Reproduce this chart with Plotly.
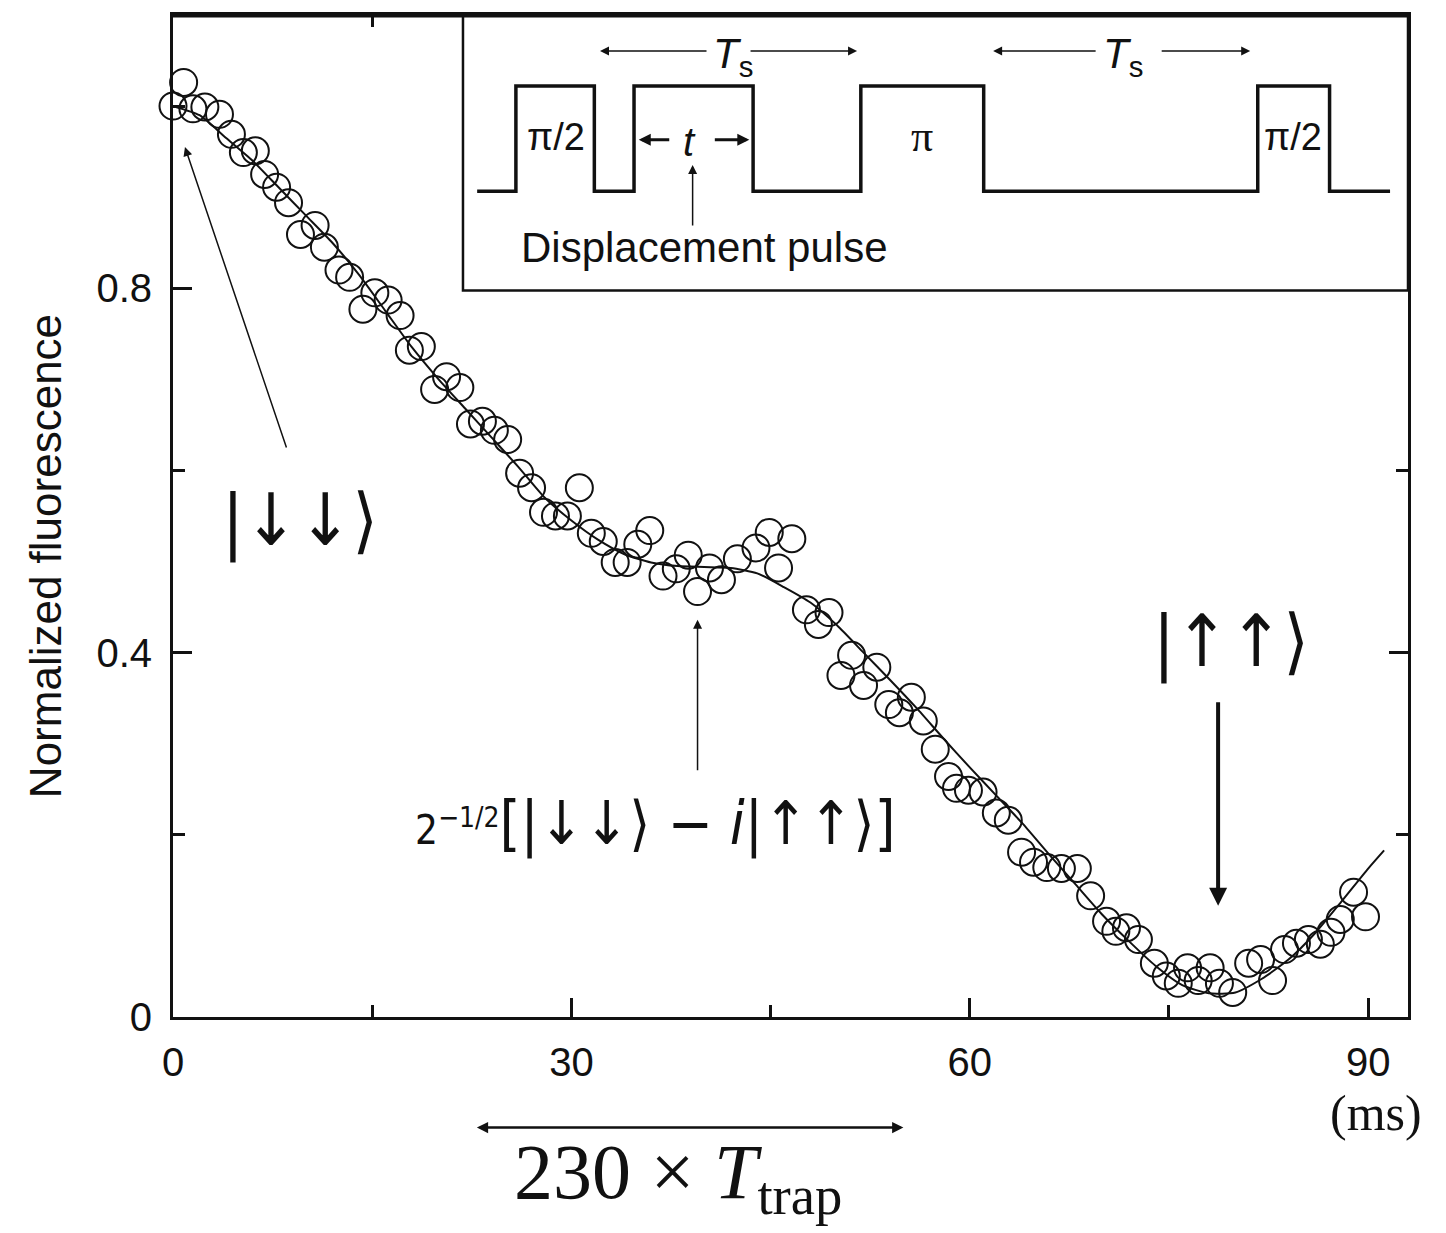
import plotly.graph_objects as go

# Measured fluorescence vs. time (ms)
time_ms = [0.0, 0.8, 1.5, 2.4, 3.5, 4.4, 5.3, 6.2, 6.9, 7.8, 8.7, 9.6, 10.7, 11.4, 12.5,
           13.3, 14.3, 15.2, 16.2, 17.1, 17.8, 18.7, 19.7, 20.6, 21.6, 22.4, 23.3, 24.2,
           25.2, 26.1, 27.0, 27.9, 28.8, 29.7, 30.6, 31.5, 32.4, 33.3, 34.2, 35.0, 35.9,
           36.9, 37.9, 38.8, 39.5, 40.4, 41.3, 42.5, 43.9, 44.9, 45.6, 46.6, 47.7, 48.6,
           49.4, 50.3, 51.1, 52.0, 53.0, 53.9, 54.7, 55.6, 56.5, 57.4, 58.4, 59.0, 59.9,
           61.0, 62.0, 62.9, 63.9, 64.8, 65.8, 66.9, 68.1, 69.1, 70.3, 71.0, 71.8, 72.7,
           73.9, 74.8, 75.7, 76.4, 77.2, 78.1, 78.8, 79.8, 81.0, 81.9, 82.8, 83.7, 84.6,
           85.5, 86.4, 87.2, 87.9, 88.9, 89.8]
fluorescence = [1.000, 1.026, 0.997, 0.999, 0.991, 0.969, 0.949, 0.951, 0.925, 0.911,
                0.894, 0.859, 0.869, 0.845, 0.820, 0.812, 0.777, 0.795, 0.787, 0.770,
                0.732, 0.736, 0.689, 0.703, 0.691, 0.651, 0.654, 0.644, 0.634, 0.597,
                0.581, 0.554, 0.550, 0.550, 0.581, 0.531, 0.522, 0.499, 0.499, 0.519,
                0.534, 0.484, 0.492, 0.507, 0.467, 0.493, 0.480, 0.503, 0.515, 0.532,
                0.493, 0.525, 0.447, 0.431, 0.444, 0.375, 0.397, 0.364, 0.384, 0.343,
                0.334, 0.351, 0.325, 0.294, 0.264, 0.251, 0.249, 0.247, 0.224, 0.216,
                0.181, 0.170, 0.164, 0.163, 0.163, 0.133, 0.105, 0.094, 0.098, 0.085,
                0.059, 0.045, 0.037, 0.054, 0.040, 0.054, 0.037, 0.027, 0.059, 0.063,
                0.040, 0.074, 0.081, 0.085, 0.080, 0.093, 0.107, 0.137, 0.110]

# Theoretical curve
fit_t = [0, 2, 4, 6, 8, 10, 12, 14, 16, 18, 20, 22, 24, 26, 28, 30, 32, 34, 36, 38, 40,
         42, 44, 46, 48, 50, 52, 54, 56, 58, 60, 62, 64, 66, 68, 70, 72, 74, 76, 78, 80,
         82, 84, 86, 88, 90, 91.2]
fit_y = [1.000, 0.990, 0.965, 0.940, 0.910, 0.880, 0.850, 0.815, 0.775, 0.735, 0.700,
         0.668, 0.636, 0.604, 0.570, 0.545, 0.524, 0.508, 0.499, 0.495, 0.494, 0.493,
         0.487, 0.472, 0.455, 0.430, 0.400, 0.370, 0.339, 0.306, 0.274, 0.243, 0.212,
         0.178, 0.145, 0.112, 0.083, 0.056, 0.035, 0.026, 0.027, 0.042, 0.063, 0.092,
         0.127, 0.163, 0.183]

x_ticks = [0, 30, 60, 90]
x_minor = [15, 45, 75]
y_ticks = [0, 0.4, 0.8]
y_tick_text = ["0", "0.4", "0.8"]
y_minor = [0.2, 0.6, 1.0]

# Pulse sequence (inset): edge times and on/off levels, arbitrary units
pulse_t = [1.5, 5.6, 13.9, 18.1, 30.7, 42.1, 55.1, 84.1, 91.7, 98.1]
pulse_level = [0, 1, 0, 1, 0, 1, 0, 1, 0, 0]

SANS = "Liberation Sans, Arial, sans-serif"
SERIF = "Liberation Serif, DejaVu Serif, serif"
SYM = "DejaVu Sans Condensed, DejaVu Sans, sans-serif"
INK = "#111111"

fig = go.Figure()

fig.add_trace(go.Scatter(
    x=fit_t, y=fit_y, mode="lines", line=dict(color=INK, width=2, shape="spline",
                                              smoothing=0.6),
    showlegend=False, hoverinfo="skip"))
fig.add_trace(go.Scatter(
    x=time_ms, y=fluorescence, mode="markers", cliponaxis=False,
    marker=dict(symbol="circle-open", size=27, color=INK, line=dict(width=2, color=INK)),
    showlegend=False))

# inset pulse waveform
fig.add_trace(go.Scatter(
    x=pulse_t, y=pulse_level, mode="lines", xaxis="x2", yaxis="y2",
    line=dict(color=INK, width=3.5, shape="hv"), showlegend=False, hoverinfo="skip"))

axis_common = dict(showgrid=False, zeroline=False, showline=True, linecolor=INK,
                   linewidth=3, mirror="allticks", ticks="inside", tickcolor=INK,
                   tickwidth=2.5, ticklen=19,
                   tickfont=dict(family=SANS, size=40, color=INK))

fig.update_layout(
    width=1446, height=1233,
    margin=dict(l=173, r=38, t=12, b=216),
    paper_bgcolor="white", plot_bgcolor="white",
    xaxis=dict(range=[0, 93], tickvals=x_ticks,
               minor=dict(tickvals=x_minor, ticks="inside", ticklen=12,
                          tickwidth=2.5, tickcolor=INK),
               ticklabelstandoff=8, **axis_common),
    yaxis=dict(range=[0, 1.1], tickvals=y_ticks, ticktext=y_tick_text,
               minor=dict(tickvals=y_minor, ticks="inside", ticklen=12,
                          tickwidth=2.5, tickcolor=INK),
               ticklabelstandoff=10, **axis_common),
    xaxis2=dict(domain=[0.2348, 1.0], range=[0, 100], visible=False, anchor="y2",
                fixedrange=True),
    yaxis2=dict(domain=[0.725, 1.0], range=[-0.943, 1.676], visible=False,
                anchor="x2", fixedrange=True),
)

# inset frame and heavy top border
fig.add_shape(type="rect", xref="paper", yref="paper", x0=0.2348, x1=1.0, y0=0.725,
              y1=1.0, line=dict(color=INK, width=2.5))
fig.add_shape(type="line", xref="paper", yref="paper", x0=0, x1=1, y0=1, y1=1,
              line=dict(color=INK, width=5))

ann = []


def arrow(x, y, ax, ay, width=1.5, head=2, size=1.2, xref="x", yref="y", side="end"):
    ann.append(dict(x=x, y=y, ax=ax, ay=ay, xref=xref, yref=yref, text="",
                    showarrow=True, arrowhead=head, startarrowhead=head,
                    arrowsize=size, startarrowsize=size, arrowwidth=width,
                    arrowcolor=INK, arrowside=side))


def label(x, y, text, size, family=SANS, xref="x", yref="y", angle=0):
    ann.append(dict(x=x, y=y, text=text, xref=xref, yref=yref, showarrow=False,
                    font=dict(family=family, size=size, color=INK), textangle=angle,
                    xanchor="center", yanchor="middle"))


# axis title
label(-0.1036, 0.46, "Normalized fluorescence", 44, SANS, "paper", "paper", -90)

# main-plot annotations
arrow(0.9, 0.955, 102, 302, width=1.5)
label(9.6, 0.545, "|↓↓⟩", 72, SYM)
arrow(39.5, 0.436, 0, 152, width=1.5)
label(36.3, 0.212,
      "<span style='font-size:40px'>2<sup>−1/2</sup></span>[|↓↓⟩ − <i>i</i>|↑↑⟩]",
      60, SYM)
label(79.7, 0.412, "|↑↑⟩", 72, SYM)
arrow(78.7, 0.122, 0, -205, width=4, size=0.9)

# below the axis (paper units vertically)
arrow(55.0, -0.1104, -428, 0, width=2.5, size=0.9, yref="paper", side="end+start")
label(38.0, -0.160, "230 × <i>T</i><sub>trap</sub>", 78, SERIF, "x", "paper")
label(90.6, -0.0955, "(ms)", 50, SERIF, "x", "paper")

# inset annotations
label(9.8, 0.52, "π/2", 38, SANS, "x2", "y2")
label(48.6, 0.52, "π", 44, SERIF, "x2", "y2")
label(87.8, 0.52, "π/2", 38, SANS, "x2", "y2")
label(24.0, 0.47, "<i>t</i>", 40, SANS, "x2", "y2")
arrow(18.6, 0.49, 32, 0, width=3, size=0.8, xref="x2", yref="y2")
arrow(30.3, 0.49, -36, 0, width=3, size=0.8, xref="x2", yref="y2")
arrow(24.3, 0.25, 0, 62, width=1.5, xref="x2", yref="y2")
label(25.6, -0.53, "Displacement pulse", 42, SANS, "x2", "y2")
label(28.6, 1.28, "<i>T</i><sub>s</sub>", 42, SANS, "x2", "y2")
arrow(14.5, 1.333, 108, 0, width=1.5, xref="x2", yref="y2")
arrow(41.7, 1.333, -108, 0, width=1.5, xref="x2", yref="y2")
label(69.8, 1.28, "<i>T</i><sub>s</sub>", 42, SANS, "x2", "y2")
arrow(56.1, 1.333, 104, 0, width=1.5, xref="x2", yref="y2")
arrow(83.3, 1.333, -90, 0, width=1.5, xref="x2", yref="y2")

fig.update_layout(annotations=ann)

fig.write_html("out.html")
